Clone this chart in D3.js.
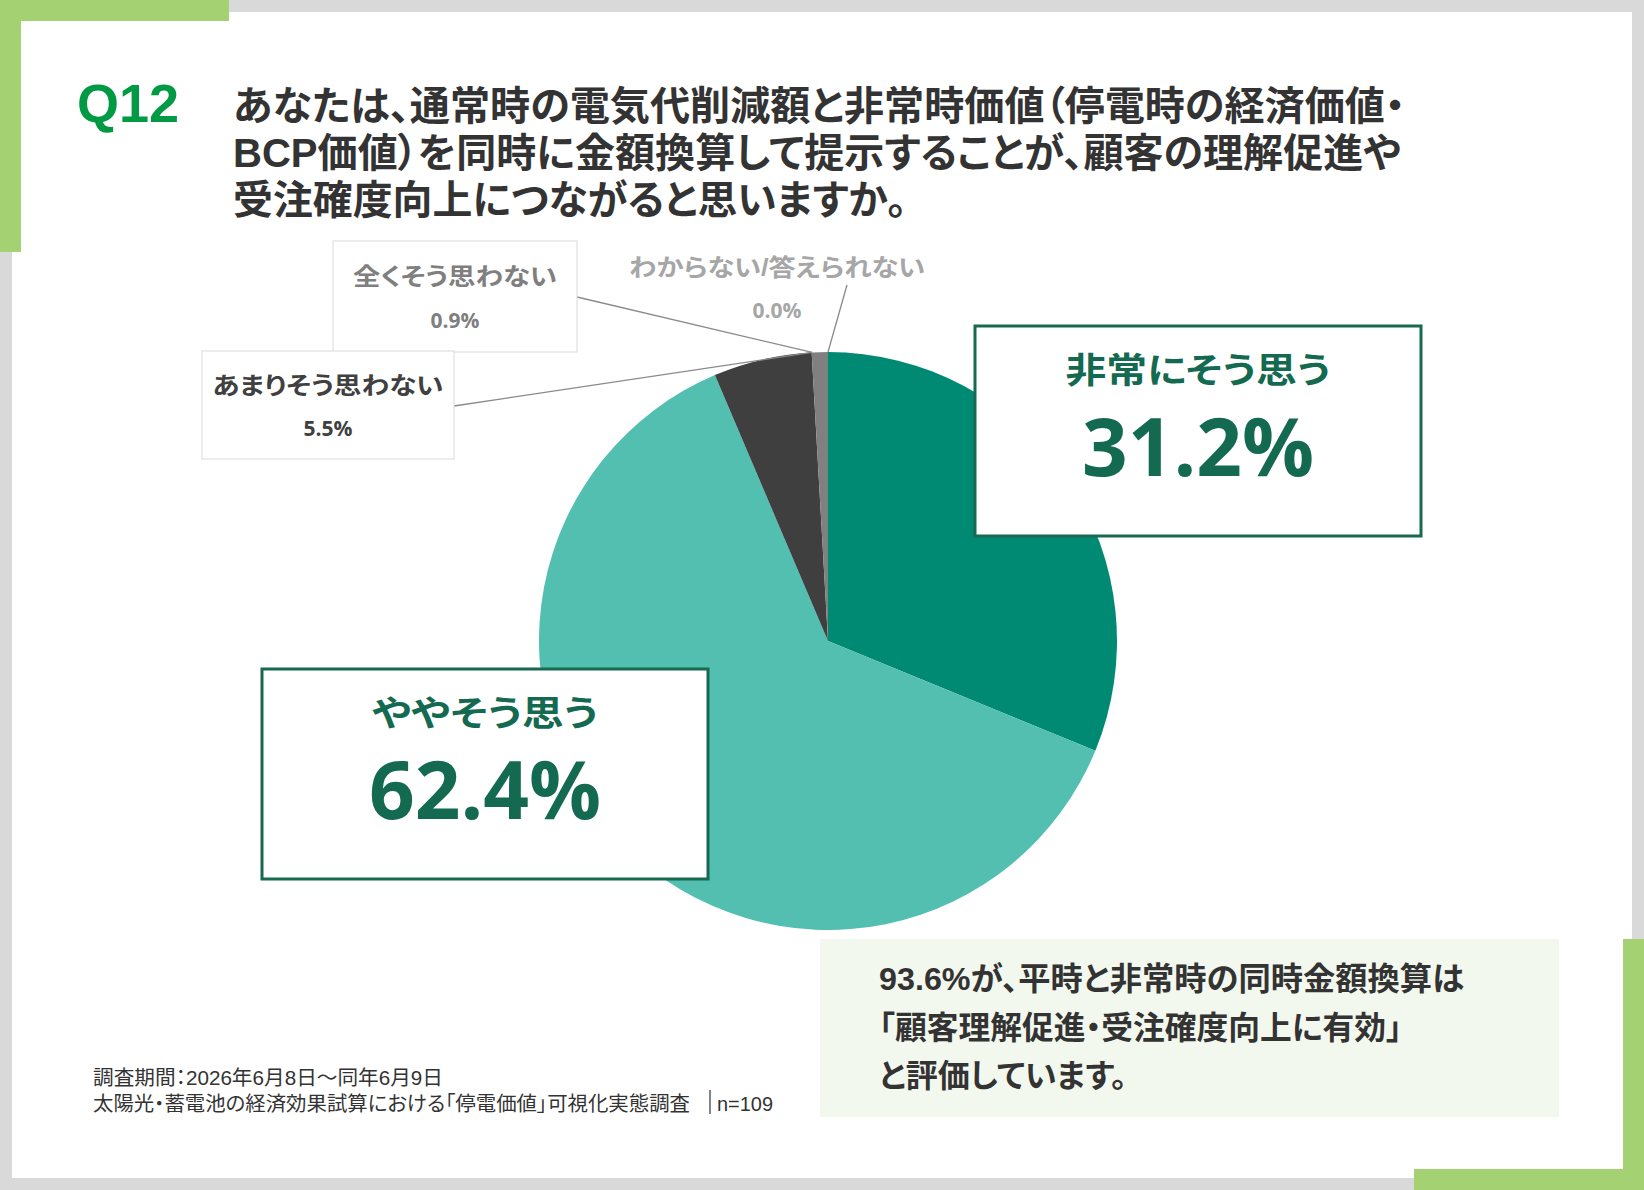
<!DOCTYPE html>
<html lang="ja">
<head>
<meta charset="UTF-8">
<title>Q12 停電価値</title>
<script src="https://d3js.org/d3.v7.min.js"></script>
<style>
  body { margin: 0; background: #fff; }
  svg text { font-family: "Liberation Sans", "Noto Sans CJK JP", sans-serif; font-feature-settings: "palt"; }
</style>
</head>
<body>
<div id="chart"></div>
<script>
// answer categories, clockwise from 12 o'clock
const categories = ["非常にそう思う", "ややそう思う", "あまりそう思わない", "全くそう思わない", "わからない/答えられない"];
const values = [31.2, 62.4, 5.5, 0.9, 0.0];
const sliceColors = ["#008a74", "#53bfb1", "#3f3f3f", "#808080", "#bfbfbf"];

const titleLines = [
  "あなたは、通常時の電気代削減額と非常時価値（停電時の経済価値・",
  "BCP価値）を同時に金額換算して提示することが、顧客の理解促進や",
  "受注確度向上につながると思いますか。"
];
const summaryLines = [
  "93.6%が、平時と非常時の同時金額換算は",
  "「顧客理解促進・受注確度向上に有効」",
  "と評価しています。"
];
const footerLines = [
  "調査期間：2026年6月8日～同年6月9日",
  "太陽光・蓄電池の経済効果試算における「停電価値」可視化実態調査"
];
const sampleSize = "n=109";

const W = 1644, H = 1190;
const svg = d3.select("#chart").append("svg")
  .attr("width", W).attr("height", H);

// frame: grey outline with green corner brackets
const grey = "#d9d9d9", lime = "#a4d172";
svg.append("rect").attr("x", 0).attr("y", 0).attr("width", W).attr("height", 12).attr("fill", grey);
svg.append("rect").attr("x", 0).attr("y", H - 12).attr("width", W).attr("height", 12).attr("fill", grey);
svg.append("rect").attr("x", 0).attr("y", 0).attr("width", 12).attr("height", H).attr("fill", grey);
svg.append("rect").attr("x", W - 12).attr("y", 0).attr("width", 12).attr("height", H).attr("fill", grey);
svg.append("rect").attr("x", 0).attr("y", 0).attr("width", 229).attr("height", 21).attr("fill", lime);
svg.append("rect").attr("x", 0).attr("y", 0).attr("width", 21).attr("height", 252).attr("fill", lime);
svg.append("rect").attr("x", 1623).attr("y", 939).attr("width", 21).attr("height", H - 939).attr("fill", lime);
svg.append("rect").attr("x", 1414).attr("y", 1169).attr("width", W - 1414).attr("height", 21).attr("fill", lime);

// multi-line block as one text element
function block(lines, x, y0, step, lens, size, weight, color) {
  const t = svg.append("text").attr("fill", color)
    .style("font-size", size + "px").style("font-weight", weight);
  t.selectAll("tspan").data(lines).enter().append("tspan")
    .attr("x", x).attr("y", (d, i) => y0 + i * step)
    .attr("textLength", (d, i) => lens[i]).attr("lengthAdjust", "spacingAndGlyphs")
    .text(d => d);
  return t;
}

// heading
svg.append("text").attr("x", 77).attr("y", 122)
  .style("font-size", "54px").style("font-weight", 700)
  .attr("fill", "#009a44").text("Q12");
block(titleLines, 233, 120, 47, [1172, 1168, 674], 40, 700, "#333");

// pie
const cx = 828, cy = 641, r = 289;
const pie = d3.pie().sort(null).value(d => d.v);
const arcs = pie(categories.map((c, i) => ({ c, v: values[i], color: sliceColors[i] })));
const arc = d3.arc().innerRadius(0).outerRadius(r);
const g = svg.append("g").attr("transform", `translate(${cx},${cy})`);
g.selectAll("path").data(arcs).enter().append("path")
  .attr("d", arc).attr("fill", d => d.data.color);

// point on the rim at a given angle
const rim = a => [cx + r * Math.sin(a), cy - r * Math.cos(a)];

// leader lines
const leaders = [
  { from: [454, 406], to: rim(arcs[2].endAngle) },
  { from: [577, 297], to: rim(arcs[3].startAngle + 0.002) },
  { from: [847, 285], to: rim(arcs[4].startAngle) }
];
svg.selectAll("line.leader").data(leaders).enter().append("line")
  .attr("class", "leader")
  .attr("x1", d => d.from[0]).attr("y1", d => d.from[1])
  .attr("x2", d => d.to[0]).attr("y2", d => d.to[1])
  .attr("stroke", "#8a8a8a").attr("stroke-width", 1.3);

// small label boxes
svg.append("rect").attr("x", 333).attr("y", 241).attr("width", 244).attr("height", 111)
  .attr("fill", "#fff").attr("stroke", "#d9d9d9");
svg.append("rect").attr("x", 202).attr("y", 351).attr("width", 252).attr("height", 108)
  .attr("fill", "#fff").attr("stroke", "#d9d9d9");

// label + percentage in one text element
function label(i, x, yLab, yVal, len, labSize, valSize, color) {
  const t = svg.append("text").attr("text-anchor", "middle").attr("fill", color)
    .style("font-weight", 700);
  t.append("tspan").attr("x", x).attr("y", yLab)
    .attr("textLength", len).attr("lengthAdjust", "spacingAndGlyphs")
    .style("font-size", labSize + "px").text(categories[i]);
  t.append("tspan").attr("x", x).attr("y", yVal)
    .style("font-family", "'Open Sans', 'Noto Sans', sans-serif")
    .style("font-size", valSize + "px").text(values[i].toFixed(1) + "%");
}
label(3, 455, 285, 328, 204, 24, 21, "#7f7f7f");
label(2, 328, 394, 436, 231, 24, 21, "#404040");
label(4, 777, 276, 318, 296, 24, 21, "#a6a6a6");

// big label boxes
function bigLabel(i, x, y, len) {
  svg.append("rect").attr("x", x).attr("y", y).attr("width", 446).attr("height", 210)
    .attr("fill", "#fff").attr("stroke", "#17694f").attr("stroke-width", 3);
  label(i, x + 223, y + 57, y + 150, len, 35, 80, "#146a50");
}
bigLabel(0, 975, 326, 265);
bigLabel(1, 262, 669, 226);

// summary panel
svg.append("rect").attr("x", 820).attr("y", 939).attr("width", 739).attr("height", 178)
  .attr("fill", "#f3f8ee");
block(summaryLines, 879, 990, 48.5, [585, 523, 248], 32, 700, "#333");

// footer
block(footerLines, 93, 1085, 26, [350, 597], 20, 400, "#333");
svg.append("line").attr("x1", 710).attr("x2", 710).attr("y1", 1090).attr("y2", 1114)
  .attr("stroke", "#333").attr("stroke-width", 1.2);
svg.append("text").attr("x", 717).attr("y", 1111)
  .attr("textLength", 56).attr("lengthAdjust", "spacingAndGlyphs")
  .style("font-size", "20px").attr("fill", "#333").text(sampleSize);
</script>
</body>
</html>
